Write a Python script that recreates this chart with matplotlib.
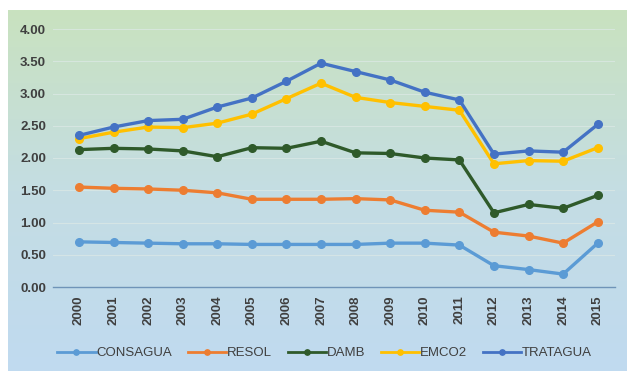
import numpy as np
import matplotlib
matplotlib.use('Agg')
import matplotlib.pyplot as plt
from matplotlib.colors import LinearSegmentedColormap

plt.rcParams['font.family'] = ['Liberation Sans', 'DejaVu Sans']

# datos por empresa, 2000-2015
years = [str(y) for y in range(2000, 2016)]
consagua = [0.70, 0.69, 0.68, 0.67, 0.67, 0.66, 0.66, 0.66, 0.66, 0.68, 0.68, 0.65, 0.33, 0.27, 0.20, 0.68]
resol = [1.55, 1.53, 1.52, 1.50, 1.46, 1.36, 1.36, 1.36, 1.37, 1.35, 1.19, 1.16, 0.85, 0.79, 0.68, 1.01]
damb = [2.13, 2.15, 2.14, 2.11, 2.02, 2.16, 2.15, 2.26, 2.08, 2.07, 2.00, 1.97, 1.15, 1.28, 1.22, 1.42]
emco2 = [2.30, 2.40, 2.48, 2.47, 2.54, 2.68, 2.92, 3.16, 2.94, 2.86, 2.80, 2.74, 1.91, 1.96, 1.95, 2.16]
tratagua = [2.35, 2.48, 2.58, 2.60, 2.79, 2.93, 3.19, 3.47, 3.34, 3.21, 3.02, 2.90, 2.06, 2.11, 2.09, 2.52]

series = [
    ('CONSAGUA', consagua, '#5b9bd5'),
    ('RESOL', resol, '#ed7d31'),
    ('DAMB', damb, '#2f5a2a'),
    ('EMCO2', emco2, '#ffc000'),
    ('TRATAGUA', tratagua, '#4472c4'),
]

fig = plt.figure(figsize=(6.27, 3.71), dpi=100)
fig.patch.set_facecolor('white')

# fondo degradado verde -> azul
bg = fig.add_axes([8 / 627, 0, 1 - 8 / 627, 1 - 10 / 371])
cmap = LinearSegmentedColormap.from_list('bg', ['#c9e2bf', '#c4dde3', '#c0daf0'])
bg.imshow(np.linspace(0, 1, 256).reshape(-1, 1), aspect='auto', cmap=cmap,
          extent=[0, 1, 0, 1], origin='upper')
bg.set_axis_off()

ax = fig.add_axes([53 / 627, 1 - 287 / 371, 562 / 627, 258 / 371])
ax.patch.set_alpha(0)
x = np.arange(len(years))
for name, vals, color in series:
    ax.plot(x, vals, color=color, lw=2.4, marker='o', ms=5.5, label=name)

ax.set_xlim(-0.75, 15.5)
ax.set_ylim(0, 4)
ax.set_yticks(np.arange(0, 4.01, 0.5))
ax.set_yticklabels(['%.2f' % v for v in np.arange(0, 4.01, 0.5)])
ax.set_xticks(x)
ax.set_xticklabels(years, rotation=90)
ax.tick_params(axis='both', length=0, labelsize=9.5, colors='#3f3f3f')
ax.tick_params(axis='y', pad=5)
ax.tick_params(axis='x', pad=6)
for lbl in ax.get_xticklabels() + ax.get_yticklabels():
    lbl.set_fontweight('bold')

ax.grid(axis='y', color='#dde9e6', lw=0.8, alpha=0.7)
for side in ['top', 'right', 'left']:
    ax.spines[side].set_visible(False)
ax.spines['bottom'].set_color('#6f94b8')
ax.spines['bottom'].set_linewidth(1.0)

leg = fig.legend(loc='center', bbox_to_anchor=(0.5175, 1 - 353 / 371), ncol=5,
                 frameon=False, fontsize=9.5, handlelength=2.9, columnspacing=1.2,
                 handletextpad=0.05, markerscale=0.7)
for h in leg.legend_handles:
    h.set_linewidth(2.0)
for t in leg.get_texts():
    t.set_color('#3f3f3f')

fig.savefig('out.png', dpi=100)
